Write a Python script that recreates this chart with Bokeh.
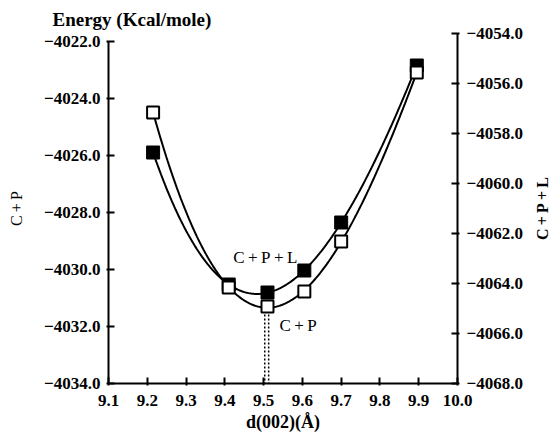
import numpy as np
from bokeh.plotting import figure
from bokeh.layouts import row
from bokeh.models import Range1d, LinearAxis, FixedTicker, Label
from bokeh.embed import file_html
from bokeh.resources import INLINE

# ---- data ----
d_spacing = [9.215, 9.41, 9.51, 9.605, 9.70, 9.895]
energy_cp = [-4024.49, -4030.63, -4031.30, -4030.77, -4029.02, -4023.09]     # left axis, open squares
energy_cpl = [-4058.76, -4064.04, -4064.36, -4063.48, -4061.56, -4055.28]    # right axis, filled squares

x_ticks = [9.1, 9.2, 9.3, 9.4, 9.5, 9.6, 9.7, 9.8, 9.9, 10.0]
x_tick_labels = ["9.1", "9.2", "9.3", "9.4", "9.5", "9.6", "9.7", "9.8", "9.9", "10.0"]
left_ticks = [-4034, -4032, -4030, -4028, -4026, -4024, -4022]
left_tick_labels = ["\u22124034.0", "\u22124032.0", "\u22124030.0", "\u22124028.0",
                    "\u22124026.0", "\u22124024.0", "\u22124022.0"]
right_ticks = [-4068, -4066, -4064, -4062, -4060, -4058, -4056, -4054]
right_tick_labels = ["\u22124068.0", "\u22124066.0", "\u22124064.0", "\u22124062.0",
                     "\u22124060.0", "\u22124058.0", "\u22124056.0", "\u22124054.0"]

FONT = "Liberation Serif"
TS = "\u2009"
LABEL_CP = "C" + TS + "+" + TS + "P"
LABEL_CPL = "C" + TS + "+" + TS + "P" + TS + "+" + TS + "L"

frame_h = 350
left_px_per_unit = 28.5

p = figure(width=530, height=438, output_backend="svg", toolbar_location=None,
           x_range=Range1d(9.1, 10.0),
           y_range=Range1d(-4034, -4034 + frame_h / left_px_per_unit),
           min_border_left=108, min_border_right=73, min_border_top=33, min_border_bottom=55)
p.extra_y_ranges = {"right": Range1d(-4068, -4054)}
p.outline_line_color = None
p.xgrid.grid_line_color = None
p.ygrid.grid_line_color = None
p.background_fill_color = "white"

p.title.text = "Energy (Kcal/mole)"
p.title.align = "left"
p.title.offset = -56
p.title.standoff = 8
p.title.text_font = FONT
p.title.text_font_style = "bold"
p.title.text_font_size = "19px"
p.title.text_color = "black"

# smooth fitted curves through each series
xs = np.linspace(min(d_spacing), max(d_spacing), 200)
fit_cp = np.polyval(np.polyfit(d_spacing, energy_cp, 4), xs)
fit_cpl = np.polyval(np.polyfit(d_spacing, energy_cpl, 4), xs)
p.line(xs, fit_cp, line_color="black", line_width=2)
p.line(xs, fit_cpl, line_color="black", line_width=2, y_range_name="right")

# dotted drop lines at the minimum of C+P
i_min = int(np.argmin(energy_cp))
xm = d_spacing[i_min]
p.segment(x0=[xm - 0.007, xm + 0.003], y0=[energy_cp[i_min]] * 2,
          x1=[xm - 0.007, xm + 0.003], y1=[left_ticks[0]] * 2,
          line_color="black", line_width=1.5, line_dash="2 2")

p.scatter(d_spacing, energy_cpl, marker="square", size=13, fill_color="black",
          line_color="black", y_range_name="right")
p.scatter(d_spacing, energy_cp, marker="square", size=12, fill_color="white",
          line_color="black", line_width=2)

# axes
def style_axis(ax, ticks, labels, size="17px"):
    ax.ticker = FixedTicker(ticks=ticks)
    ax.major_label_overrides = {t: l for t, l in zip(ticks, labels)}
    ax.major_tick_in = 6
    ax.major_tick_out = 2
    ax.minor_tick_in = 0
    ax.minor_tick_out = 0
    ax.axis_line_width = 2
    ax.axis_line_color = "black"
    ax.major_tick_line_width = 2
    ax.major_tick_line_color = "black"
    ax.major_label_text_font = FONT
    ax.major_label_text_font_style = "bold"
    ax.major_label_text_font_size = size
    ax.major_label_text_color = "black"
    ax.axis_label_text_font = FONT
    ax.axis_label_text_color = "black"

xa = p.xaxis[0]
style_axis(xa, x_ticks, x_tick_labels, "17px")
xa.major_label_standoff = 9
xa.axis_label = "d(002)(\u00c5)"
xa.axis_label_text_font_size = "18px"
xa.axis_label_text_font_style = "bold"
xa.axis_label_standoff = 3

ya = p.yaxis[0]
style_axis(ya, left_ticks, left_tick_labels)
ya.bounds = (-4034, -4022)
ya.major_label_standoff = 6
ya.axis_label = LABEL_CP
ya.axis_label_text_font_size = "16px"
ya.axis_label_text_font_style = "normal"
ya.axis_label_standoff = 16

ra = LinearAxis(y_range_name="right")
style_axis(ra, right_ticks, right_tick_labels)
ra.major_label_standoff = 7
p.add_layout(ra, "right")

# in-plot annotations
p.add_layout(Label(x=9.422, y=-4029.58, text=LABEL_CPL,
                   text_font=FONT, text_color="black",
                   text_font_size="17px", text_baseline="middle", text_align="left"))
p.add_layout(Label(x=9.541, y=-4031.96, text=LABEL_CP,
                   text_font=FONT, text_color="black",
                   text_font_size="17px", text_baseline="middle", text_align="left"))

# narrow strip carrying the right-hand axis title (reads bottom-to-top like the reference)
q = figure(width=28, height=438, output_backend="svg", toolbar_location=None,
           x_axis_location=None, y_axis_location="left",
           x_range=Range1d(0, 1), y_range=Range1d(0, 1),
           min_border_left=20, min_border_right=0, min_border_top=33, min_border_bottom=55)
q.outline_line_color = None
q.xgrid.grid_line_color = None
q.ygrid.grid_line_color = None
qa = q.yaxis[0]
qa.ticker = FixedTicker(ticks=[])
qa.axis_line_color = None
qa.major_tick_in = 0
qa.major_tick_out = 0
qa.minor_tick_in = 0
qa.minor_tick_out = 0
qa.major_label_text_font_size = "0px"
qa.axis_label = LABEL_CPL
qa.axis_label_text_font = FONT
qa.axis_label_text_font_size = "16px"
qa.axis_label_text_font_style = "bold"
qa.axis_label_text_color = "black"
qa.axis_label_standoff = 0

layout = row(p, q)
open("out.html", "w").write(file_html(layout, INLINE))
